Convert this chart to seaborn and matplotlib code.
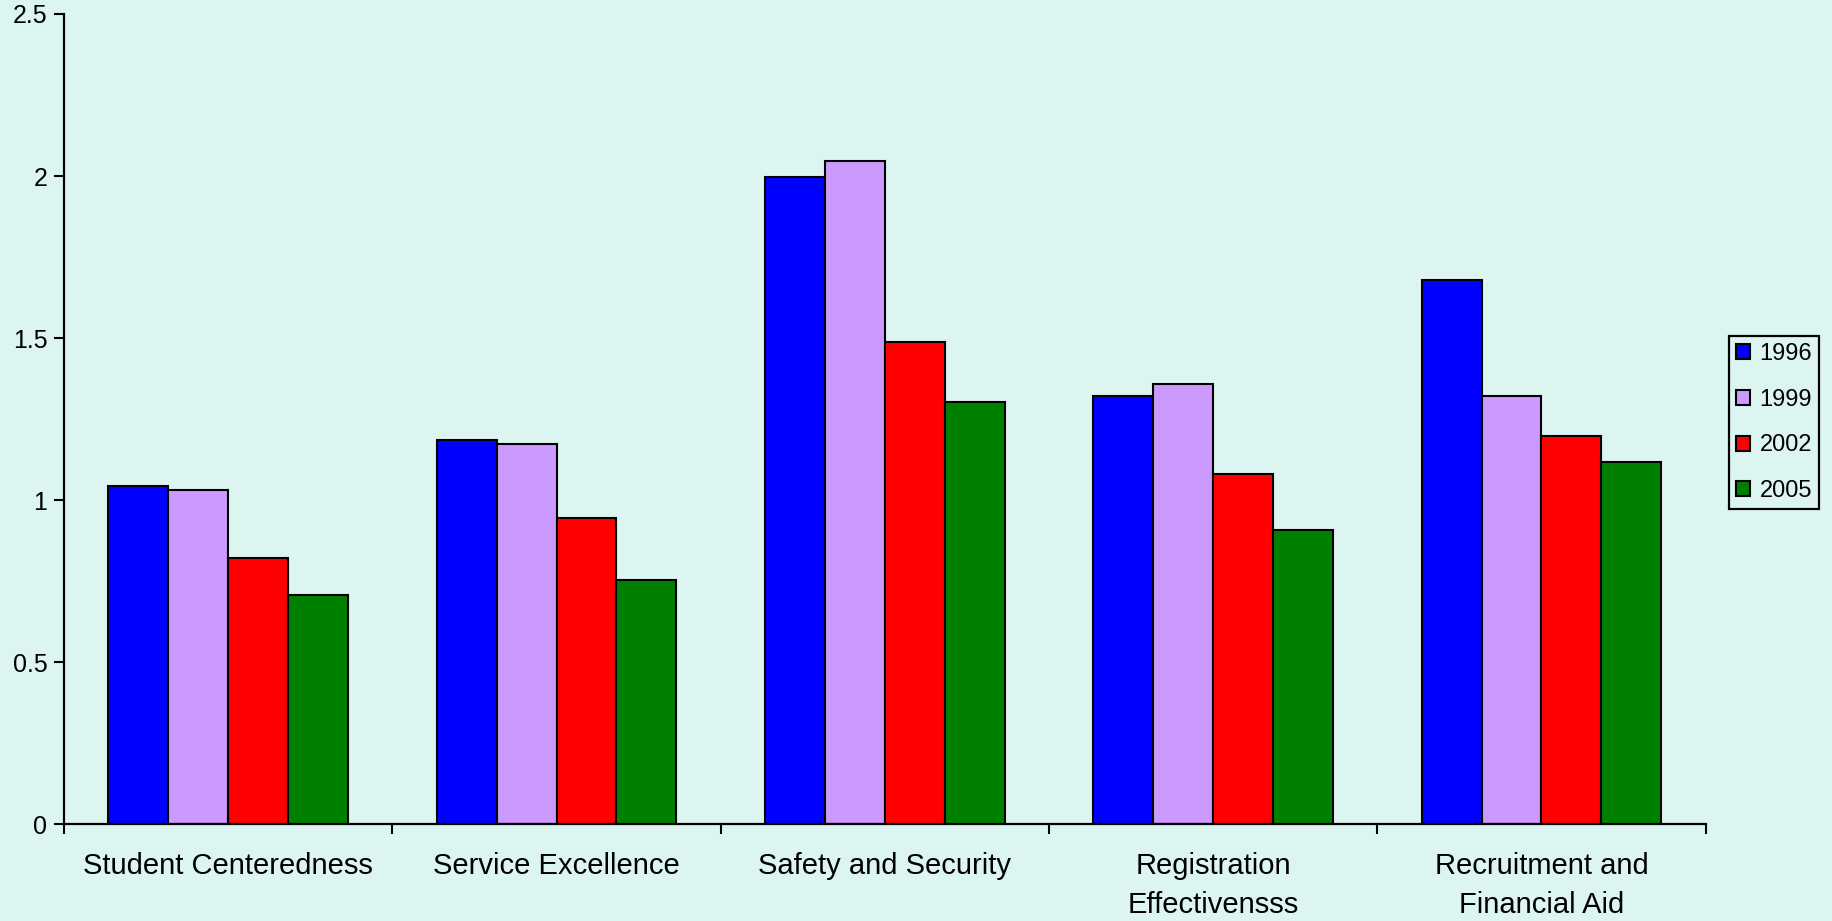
import numpy as np
import pandas as pd
import matplotlib
matplotlib.use("Agg")
import matplotlib.pyplot as plt
import seaborn as sns

# data
categories = ["Student Centeredness", "Service Excellence", "Safety and Security",
              "Registration\nEffectivensss", "Recruitment and\nFinancial Aid"]
years = ["1996", "1999", "2002", "2005"]
vals_1996 = [1.043, 1.185, 1.996, 1.322, 1.680]
vals_1999 = [1.031, 1.173, 2.045, 1.359, 1.322]
vals_2002 = [0.821, 0.944, 1.489, 1.081, 1.198]
vals_2005 = [0.708, 0.752, 1.303, 0.908, 1.118]
y_ticks = [0, 0.5, 1, 1.5, 2, 2.5]
y_tick_labels = ["0", "0.5", "1", "1.5", "2", "2.5"]

colors = ["#0000FF", "#CC99FF", "#FF0000", "#008000"]
bg = "#DDF5F1"

rows = []
for yr, vals in zip(years, [vals_1996, vals_1999, vals_2002, vals_2005]):
    for cat, v in zip(categories, vals):
        rows.append({"category": cat, "year": yr, "value": v})
df = pd.DataFrame(rows)

sns.set_style("white")
plt.rcParams["font.family"] = ["Liberation Sans", "DejaVu Sans"]
plt.rcParams["text.color"] = "black"
plt.rcParams["xtick.color"] = "black"
plt.rcParams["ytick.color"] = "black"

fig = plt.figure(figsize=(18.32, 9.21), dpi=100, facecolor=bg)
ax = fig.add_axes([0.035, 0.1053, 0.896, 0.8795])
ax.set_facecolor(bg)

sns.barplot(data=df, x="category", y="value", hue="year", order=categories,
            hue_order=years, palette=colors, saturation=1, width=0.73,
            edgecolor="black", linewidth=1.5, ax=ax)

ax.set_xlim(-0.5, len(categories) - 0.5)
ax.set_ylim(0, 2.5)
ax.set_yticks(y_ticks)
ax.set_yticklabels(y_tick_labels, fontsize=18)
ax.set_xticks(range(len(categories)))
ax.set_xticklabels(categories, fontsize=21, linespacing=1.5)
ax.set_xticks(np.arange(-0.5, len(categories)), minor=True)
ax.tick_params(axis="x", which="major", length=0, pad=20, colors="black")
ax.tick_params(axis="x", which="minor", length=7, width=1.5, direction="out", bottom=True, colors="black")
ax.tick_params(axis="y", length=7, width=1.5, direction="out", left=True, pad=5, colors="black")
ax.set_xlabel("")
ax.set_ylabel("")

for side in ["top", "right"]:
    ax.spines[side].set_visible(False)
for side in ["left", "bottom"]:
    ax.spines[side].set_color("black")
    ax.spines[side].set_linewidth(1.6)

leg = ax.legend(loc="upper left", bbox_to_anchor=(0.9438, 0.635), bbox_transform=fig.transFigure,
                fontsize=17, frameon=True, fancybox=False, framealpha=1,
                edgecolor="black", facecolor=bg, handlelength=0.6, handleheight=0.6,
                handletextpad=0.4, labelspacing=1.0, borderpad=0.3, borderaxespad=0,
                title=None)
leg.get_frame().set_linewidth(1.6)
for t in leg.get_texts():
    t.set_color("black")

fig.savefig("out.png", dpi=100, facecolor=bg)
